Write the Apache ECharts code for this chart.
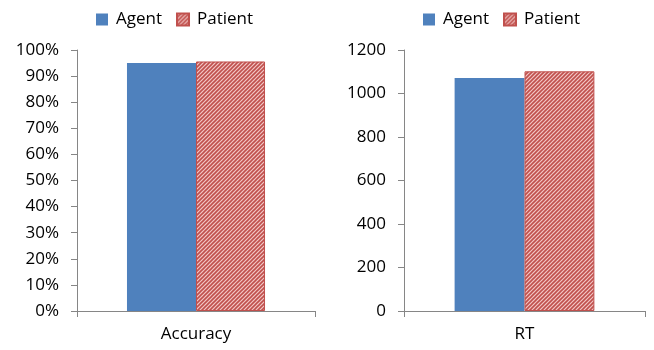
<!DOCTYPE html>
<html>
<head>
<meta charset="utf-8">
<script src="https://cdn.jsdelivr.net/npm/echarts@6/dist/echarts.min.js"></script>
<style>
  html, body { margin: 0; padding: 0; background: #fff; }
  #chart { width: 654px; height: 350px; }
</style>
</head>
<body>
<div id="chart"></div>
<script>
// values
const seriesNames = ['Agent', 'Patient'];
const accCategories = ['Accuracy'];
const rtCategories = ['RT'];
const accAgent = [95.0];
const accPatient = [95.6];
const rtAgent = [1071];
const rtPatient = [1102];

const FONT = '"Open Sans", "Noto Sans", sans-serif';
const axisGrey = '#868686';

// red diagonal hatch for the Patient bars
function hatch() {
  const c = document.createElement('canvas');
  c.width = 4;
  c.height = 4;
  const ctx = c.getContext('2d');
  ctx.fillStyle = '#f2c6c5';
  ctx.fillRect(0, 0, 4, 4);
  ctx.strokeStyle = '#c0504d';
  ctx.lineWidth = 1.6;
  ctx.beginPath();
  ctx.moveTo(-1, 5); ctx.lineTo(5, -1);
  ctx.moveTo(-1, 1); ctx.lineTo(1, -1);
  ctx.moveTo(3, 5); ctx.lineTo(5, 3);
  ctx.stroke();
  return { image: c, repeat: 'repeat' };
}
const patientFill = hatch();

const chart = echarts.init(document.getElementById('chart'));

function xAxis(idx, cats) {
  return {
    type: 'category',
    gridIndex: idx,
    data: cats,
    axisLine: { lineStyle: { color: axisGrey } },
    axisTick: { show: true, length: 6, lineStyle: { color: axisGrey } },
    axisLabel: { color: '#000', fontSize: 17, fontFamily: FONT, margin: 15 }
  };
}

function yAxis(idx, max, interval, fmt) {
  return {
    type: 'value',
    gridIndex: idx,
    min: 0,
    max: max,
    interval: interval,
    splitLine: { show: false },
    axisLine: { show: true, lineStyle: { color: axisGrey } },
    axisTick: { show: true, length: 6, lineStyle: { color: axisGrey } },
    axisLabel: { color: '#000', fontSize: 17, fontFamily: FONT, margin: 18, formatter: fmt }
  };
}

function bar(name, idx, data, isPatient) {
  return {
    name: name,
    type: 'bar',
    xAxisIndex: idx,
    yAxisIndex: idx,
    data: data,
    barGap: '0%',
    barCategoryGap: '42%',
    itemStyle: isPatient
      ? { color: patientFill, borderColor: '#c0504d', borderWidth: 1 }
      : { color: '#4f81bd' }
  };
}

function legend(left) {
  return {
    left: left,
    top: 6,
    icon: 'rect',
    itemWidth: 12,
    itemHeight: 12,
    itemGap: 14,
    textStyle: { color: '#000', fontSize: 17, fontFamily: FONT, padding: [0, 0, 0, 3] },
    data: seriesNames
  };
}

chart.setOption({
  animation: false,
  legend: [legend(91), legend(418)],
  grid: [
    { left: 77, right: 339, top: 50, bottom: 39 },
    { left: 404, right: 9, top: 50, bottom: 39 }
  ],
  xAxis: [xAxis(0, accCategories), xAxis(1, rtCategories)],
  yAxis: [
    yAxis(0, 100, 10, v => v + '%'),
    yAxis(1, 1200, 200, v => String(v))
  ],
  series: [
    bar(seriesNames[0], 0, accAgent, false),
    bar(seriesNames[1], 0, accPatient, true),
    bar(seriesNames[0], 1, rtAgent, false),
    bar(seriesNames[1], 1, rtPatient, true)
  ]
});
</script>
</body>
</html>
